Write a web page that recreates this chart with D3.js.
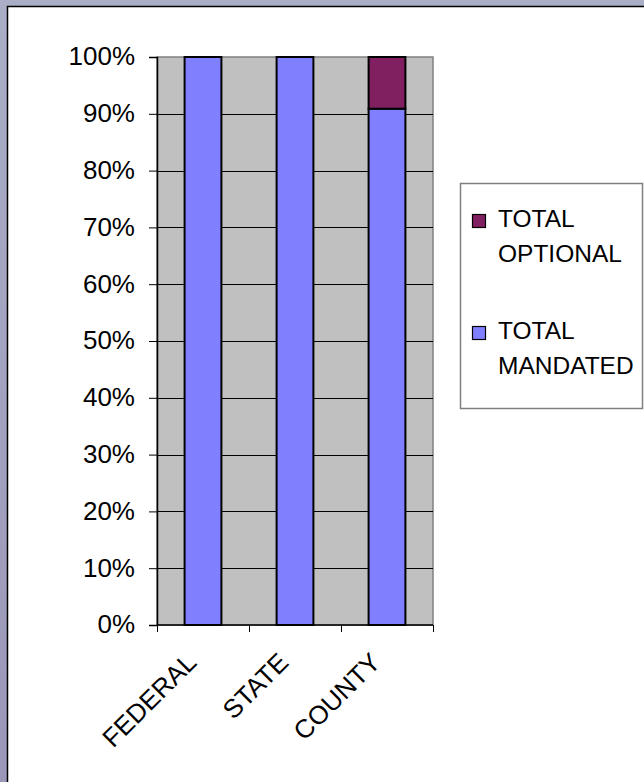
<!DOCTYPE html>
<html>
<head>
<meta charset="utf-8">
<script src="https://cdn.jsdelivr.net/npm/d3@7"></script>
<style>
  html, body { margin: 0; padding: 0; background: #fff; }
  svg { display: block; }
  text { font-family: "Liberation Sans", Arial, sans-serif; fill: #000; }
</style>
</head>
<body>
<div id="chart"></div>
<script>
// data (percent of total)
var categories = ["FEDERAL", "STATE", "COUNTY"];
var mandated = [100, 100, 90.9];
var optional = [0, 0, 9.1];
var seriesNames = ["TOTAL MANDATED", "TOTAL OPTIONAL"];
var seriesColors = ["#8080FF", "#802060"];
var yTicks = [0, 10, 20, 30, 40, 50, 60, 70, 80, 90, 100];
var yTickLabels = ["0%", "10%", "20%", "30%", "40%", "50%", "60%", "70%", "80%", "90%", "100%"];
var legendLines = [["TOTAL", "OPTIONAL"], ["TOTAL", "MANDATED"]];

var W = 644, H = 782;
var plot = { left: 157, right: 433, top: 57, bottom: 625 };

var svg = d3.select("#chart").append("svg")
  .attr("width", W)
  .attr("height", H);

/* window frame round the chart */
var defs = svg.append("defs");
var grad = defs.append("linearGradient")
  .attr("id", "frame")
  .attr("x1", 0).attr("y1", 0).attr("x2", 0).attr("y2", 1);
grad.append("stop").attr("offset", "0%").attr("stop-color", "#AAAEC6");
grad.append("stop").attr("offset", "100%").attr("stop-color", "#9A97B8");

svg.append("rect").attr("x", 0).attr("y", 0).attr("width", W).attr("height", H).attr("fill", "url(#frame)");
svg.append("rect").attr("x", 7).attr("y", 6).attr("width", W - 7).attr("height", H - 6).attr("fill", "#fff");
svg.append("path").attr("d", "M7.5," + H + "V6.5H" + W).attr("fill", "none").attr("stroke", "#000").attr("stroke-width", 1.5);

/* scales */
var x = d3.scaleBand()
  .domain(categories)
  .range([plot.left, plot.right])
  .paddingInner(0.6)
  .paddingOuter(0.3);

var y = d3.scaleLinear()
  .domain([0, 100])
  .range([plot.bottom, plot.top]);

/* plot area */
svg.append("rect")
  .attr("x", plot.left)
  .attr("y", plot.top)
  .attr("width", plot.right - plot.left)
  .attr("height", plot.bottom - plot.top)
  .attr("fill", "#C0C0C0")
  .attr("stroke", "#808080")
  .attr("stroke-width", 1.5);

// gridlines
svg.append("g")
  .selectAll("line")
  .data(yTicks.filter(function (d) { return d > 0 && d < 100; }))
  .enter().append("line")
  .attr("x1", plot.left).attr("x2", plot.right)
  .attr("y1", function (d) { return Math.round(y(d)) + 0.5; })
  .attr("y2", function (d) { return Math.round(y(d)) + 0.5; })
  .attr("stroke", "#000")
  .attr("stroke-width", 1);

/* stacked bars */
var rows = categories.map(function (c, i) {
  return { cat: c, m: mandated[i], o: optional[i] };
});
var stack = d3.stack().keys(["m", "o"]);
var layers = stack(rows);

svg.append("g")
  .selectAll("g")
  .data(layers).enter()
  .append("g")
  .attr("fill", function (d, i) { return seriesColors[i]; })
  .selectAll("rect")
  .data(function (d) { return d.filter(function (p) { return p[1] > p[0]; }); })
  .enter().append("rect")
  .attr("x", function (d) { return x(d.data.cat); })
  .attr("y", function (d) { return y(d[1]); })
  .attr("width", x.bandwidth())
  .attr("height", function (d) { return y(d[0]) - y(d[1]); })
  .attr("stroke", "#000")
  .attr("stroke-width", 2);

/* axes */
var yAxis = d3.axisLeft(y)
  .tickValues(yTicks)
  .tickSize(8)
  .tickPadding(14)
  .tickFormat(function (d, i) { return yTickLabels[i]; });

var gy = svg.append("g")
  .attr("transform", "translate(" + plot.left + ",0)")
  .call(yAxis);
gy.select(".domain").attr("stroke", "#000").attr("stroke-width", 1.5);
gy.selectAll(".tick line").attr("stroke", "#000");
gy.selectAll("text")
  .style("font-family", "'Liberation Sans', Arial, sans-serif")
  .style("font-size", "26px")
  .attr("fill", "#000")
  .attr("dy", "0.3em");

// category boundary ticks on the x axis
var xTickPos = [plot.left].concat(categories.map(function (c) { return x(c) - x.step() * x.paddingInner() / 2 + x.step(); }));
svg.append("line")
  .attr("x1", plot.left).attr("x2", plot.right)
  .attr("y1", plot.bottom).attr("y2", plot.bottom)
  .attr("stroke", "#000").attr("stroke-width", 1.5);
svg.append("g")
  .selectAll("line")
  .data(xTickPos).enter()
  .append("line")
  .attr("x1", function (d) { return Math.round(d) + 0.5; })
  .attr("x2", function (d) { return Math.round(d) + 0.5; })
  .attr("y1", plot.bottom).attr("y2", plot.bottom + 7)
  .attr("stroke", "#000");

// rotated category labels
svg.append("g")
  .selectAll("text")
  .data(categories).enter()
  .append("text")
  .attr("text-anchor", "end")
  .attr("transform", function (d) {
    var cx = x(d) + x.bandwidth() / 2 - 5;
    return "translate(" + cx + "," + (plot.bottom + 39) + ") rotate(-45)";
  })
  .style("font-size", "26px")
  .text(function (d) { return d; });

/* legend */
var legend = svg.append("g");
legend.append("rect")
  .attr("x", 460.5).attr("y", 183.5)
  .attr("width", 182).attr("height", 225)
  .attr("fill", "#fff")
  .attr("stroke", "#808080")
  .attr("stroke-width", 1.5);

var legendColors = [seriesColors[1], seriesColors[0]];
var item = legend.selectAll(".item")
  .data(legendLines).enter()
  .append("g")
  .attr("class", "item")
  .attr("transform", function (d, i) { return "translate(0," + (i * 112) + ")"; });

item.append("rect")
  .attr("x", 472.5).attr("y", 214.5)
  .attr("width", 13).attr("height", 13)
  .attr("fill", function (d, i) { return legendColors[i]; })
  .attr("stroke", "#000")
  .attr("stroke-width", 1.2);

item.selectAll("text")
  .data(function (d) { return d; }).enter()
  .append("text")
  .attr("x", 498)
  .attr("y", function (d, j) { return 227 + j * 34.5; })
  .style("font-size", "24.5px")
  .text(function (d) { return d; });
</script>
</body>
</html>
